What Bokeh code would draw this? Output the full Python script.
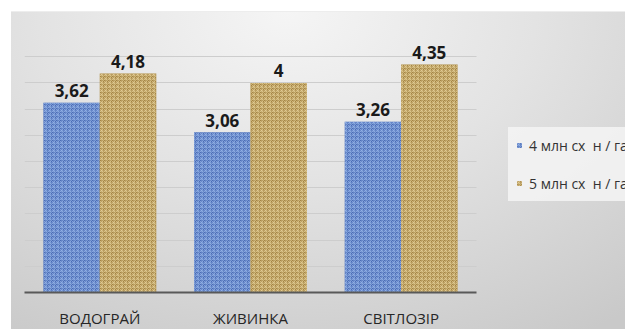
from bokeh.plotting import figure
from bokeh.models import ColumnDataSource, Range1d, SingleIntervalTicker, FixedTicker, Legend, LegendItem
from bokeh.core.properties import value
from bokeh.embed import file_html
from bokeh.resources import INLINE

varieties = ["ВОДОГРАЙ", "ЖИВИНКА", "СВІТЛОЗІР"]
density_4 = [3.62, 3.06, 3.26]
density_5 = [4.18, 4.00, 4.35]
series_names = ["4 млн сх  н / га", "5 млн сх  н / га"]

def fmt(v):
    return ("{:g}".format(v)).replace(".", ",")

pos = [i + 0.5 for i in range(len(varieties))]
off = 0.187
src = ColumnDataSource(dict(
    xa=[c - off for c in pos],
    xb=[c + off for c in pos],
    a=density_4,
    b=density_5,
    la=[fmt(v) for v in density_4],
    lb=[fmt(v) for v in density_5],
))

p = figure(
    x_range=Range1d(0, 3.989),
    y_range=Range1d(0, 5),
    width=614, height=318,
    margin=(11, 0, 0, 11),
    output_backend="svg", toolbar_location=None,
    min_border_left=13, min_border_right=0, min_border_top=18, min_border_bottom=29,
    styles={"background": "radial-gradient(ellipse 90% 120% at 45% 0%, #f5f5f5 0%, #e3e3e3 45%, #c9c9c9 100%)",
            "border-top": "1px solid #ededed"},
)
p.border_fill_alpha = 0
p.background_fill_alpha = 0
p.outline_line_alpha = 0

w = 0.375
r1 = p.vbar(x="xa", top="a", width=w, source=src,
            fill_color="#4a6cb5", line_color=None,
            hatch_pattern="criss_cross", hatch_color="#93b1e6", hatch_scale=4, hatch_weight=1, hatch_alpha=0.75)
r2 = p.vbar(x="xb", top="b", width=w, source=src,
            fill_color="#a48443", line_color=None,
            hatch_pattern="criss_cross", hatch_color="#e4cf96", hatch_scale=4, hatch_weight=1, hatch_alpha=0.7)

for xk, key in (("xa", "a"), ("xb", "b")):
    p.text(x=xk, y=key, text="l" + key, source=src,
           text_font=value("Open Sans"), text_font_style="bold", text_font_size="17px",
           text_color="#1a1a1a", text_align="center", text_baseline="alphabetic", y_offset=-12)

p.yaxis.visible = False
p.ygrid.ticker = SingleIntervalTicker(interval=0.5)
p.ygrid.grid_line_color = "#cdcdcd"
p.ygrid.grid_line_width = 1
p.ygrid.cross_bounds = (0, 3)
p.xgrid.grid_line_color = None

ax = p.xaxis[0]
ax.ticker = FixedTicker(ticks=pos)
ax.major_label_overrides = {c: v for c, v in zip(pos, varieties)}
ax.bounds = (0, 3)
ax.axis_line_color = "#595959"
ax.axis_line_width = 2
ax.major_tick_line_color = None
ax.minor_tick_line_color = None
ax.major_label_standoff = 9
ax.major_label_text_font = "Open Sans"
ax.major_label_text_font_size = "15px"
ax.major_label_text_color = "#262626"

legend = Legend(items=[LegendItem(label=series_names[0], renderers=[r1]),
                       LegendItem(label=series_names[1], renderers=[r2])],
                location=(484, 91))
legend.background_fill_color = "#f4f4f4"
legend.background_fill_alpha = 0.85
legend.border_line_alpha = 0
legend.label_text_font = "Open Sans"
legend.label_text_font_size = "14px"
legend.label_text_color = "#333333"
legend.glyph_width = 6
legend.glyph_height = 6
legend.label_height = 20
legend.padding = 8
legend.spacing = 18
legend.label_standoff = 7
legend.margin = 0
p.add_layout(legend, "center")

open("out.html", "w").write(file_html(p, INLINE))
